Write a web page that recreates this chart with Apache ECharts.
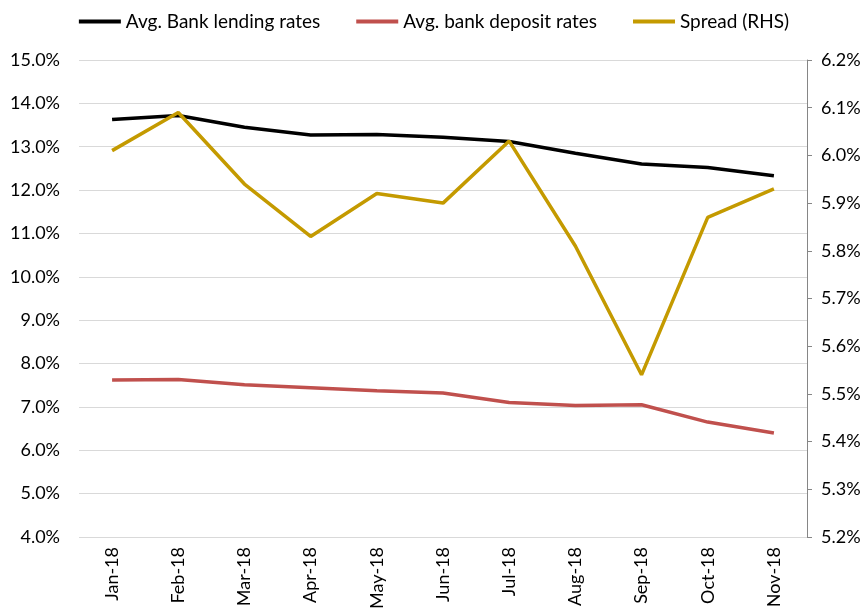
<!DOCTYPE html>
<html>
<head>
<meta charset="utf-8">
<script src="https://cdn.jsdelivr.net/npm/echarts@6/dist/echarts.min.js"></script>
<style>html,body{margin:0;padding:0;background:#fff}#c{width:868px;height:615px}</style>
</head>
<body>
<div id="c"></div>
<script>
const categories = ['Jan-18','Feb-18','Mar-18','Apr-18','May-18','Jun-18','Jul-18','Aug-18','Sep-18','Oct-18','Nov-18'];
const lendingRates = [13.63, 13.72, 13.45, 13.27, 13.28, 13.22, 13.12, 12.85, 12.60, 12.52, 12.33];
const depositRates = [7.62, 7.63, 7.51, 7.44, 7.37, 7.32, 7.10, 7.03, 7.05, 6.65, 6.40];
const spreadRHS = [6.01, 6.09, 5.94, 5.83, 5.92, 5.90, 6.03, 5.81, 5.54, 5.87, 5.93];

const FONT = 'Lato, "Open Sans", sans-serif';
const chart = echarts.init(document.getElementById('c'));
chart.setOption({
  animation: false,
  textStyle: { fontFamily: FONT },
  legend: {
    top: 7, left: 'center',
    itemWidth: 42, itemHeight: 4, itemGap: 36,
    icon: 'rect',
    textStyle: { fontSize: 19, color: '#000', fontFamily: FONT },
    data: ['Avg. Bank lending rates', 'Avg. bank deposit rates', 'Spread (RHS)']
  },
  grid: { left: 79, right: 61, top: 60, bottom: 78 },
  xAxis: {
    type: 'category', data: categories, boundaryGap: true,
    axisLine: { show: false }, axisTick: { show: false },
    axisLabel: { rotate: 90, fontSize: 18, color: '#000', margin: 10, fontFamily: FONT }
  },
  yAxis: [
    {
      type: 'value', min: 4, max: 15, interval: 1,
      axisLine: { show: false }, axisTick: { show: false },
      axisLabel: { formatter: v => v.toFixed(1) + '%', fontSize: 18, color: '#000', margin: 19, fontFamily: FONT },
      splitLine: { lineStyle: { color: '#d9d9d9', width: 1 } }
    },
    {
      type: 'value', min: 5.2, max: 6.2, interval: 0.1, position: 'right',
      axisLine: { show: true, lineStyle: { color: '#868686', width: 1 } },
      axisTick: { show: true, length: 5, lineStyle: { color: '#868686' } },
      axisLabel: { formatter: v => v.toFixed(1) + '%', fontSize: 18, color: '#000', margin: 14, fontFamily: FONT },
      splitLine: { show: false }
    }
  ],
  series: [
    { name: 'Avg. Bank lending rates', type: 'line', data: lendingRates, yAxisIndex: 0, symbol: 'none',
      lineStyle: { color: '#000000', width: 3.5 }, itemStyle: { color: '#000000' } },
    { name: 'Avg. bank deposit rates', type: 'line', data: depositRates, yAxisIndex: 0, symbol: 'none',
      lineStyle: { color: '#C0504D', width: 3.5 }, itemStyle: { color: '#C0504D' } },
    { name: 'Spread (RHS)', type: 'line', data: spreadRHS, yAxisIndex: 1, symbol: 'none',
      lineStyle: { color: '#C49A00', width: 3.5 }, itemStyle: { color: '#C49A00' } }
  ]
});
</script>
</body>
</html>
